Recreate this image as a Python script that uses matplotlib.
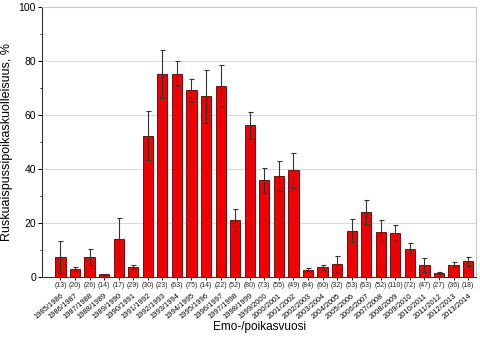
"""
Yolk-sac fry mortality by parent/fry year, bar chart with error bars
"""
import numpy as np

import matplotlib

matplotlib.use("Agg")
import matplotlib.pyplot as plt  # noqa:E402
from matplotlib.ticker import MultipleLocator  # noqa:E402

plt.rcParams["font.family"] = ["Liberation Sans", "DejaVu Sans"]

# data
years = [
    "1985/1986", "1986/1987", "1987/1988", "1988/1989", "1989/1990",
    "1990/1991", "1991/1992", "1992/1993", "1993/1994", "1994/1995",
    "1995/1996", "1996/1997", "1997/1998", "1998/1999", "1999/2000",
    "2000/2001", "2001/2002", "2002/2003", "2003/2004", "2004/2005",
    "2005/2006", "2006/2007", "2007/2008", "2008/2009", "2009/2010",
    "2010/2011", "2011/2012", "2012/2013", "2013/2014",
]
mortality = [
    7.5, 3.0, 7.5, 1.0, 14.0, 3.8, 52.5, 75.2, 75.4, 69.3,
    67.0, 70.8, 21.1, 56.3, 35.9, 37.5, 39.6, 2.8, 3.6, 4.8,
    17.2, 24.1, 16.9, 16.4, 10.5, 4.4, 1.5, 4.6, 5.8,
]
error = [
    6.0, 0.6, 3.0, 0.3, 8.0, 0.8, 9.0, 8.9, 4.7, 4.2,
    9.7, 7.7, 4.0, 5.0, 4.6, 5.7, 6.6, 0.5, 0.8, 3.1,
    4.2, 4.5, 4.3, 3.0, 2.2, 2.5, 0.35, 1.0, 1.7,
]
n_samples = [
    13, 20, 26, 14, 17, 29, 30, 23, 63, 75, 14, 22, 52, 80, 73,
    55, 49, 84, 60, 32, 53, 63, 52, 110, 72, 47, 27, 36, 18,
]


def main():
    """
    Entry point for script
    """
    fig, ax = plt.subplots(figsize=(4.8, 3.4), dpi=100)
    fig.subplots_adjust(left=0.088, right=0.992, top=0.978, bottom=0.185)

    x = np.arange(len(years))
    ax.bar(
        x, mortality, width=0.7, color="#ee0000", edgecolor="#5a0000",
        linewidth=0.6, zorder=3,
    )
    ax.errorbar(
        x, mortality, yerr=error, fmt="none", ecolor="#333333",
        elinewidth=0.8, capsize=1.8, capthick=0.8, zorder=4,
    )

    ax.set_xlim(-1.25, len(years) - 0.45)
    ax.set_ylim(0, 100)
    ax.yaxis.set_major_locator(MultipleLocator(20))
    ax.yaxis.set_minor_locator(MultipleLocator(10))
    ax.grid(axis="y", color="#d8d8d8", linewidth=0.7, zorder=0)

    for side in ["top", "right"]:
        ax.spines[side].set_color("#c8c8c8")
    for side in ["left", "bottom"]:
        ax.spines[side].set_color("#333333")
        ax.spines[side].set_linewidth(0.8)

    ax.tick_params(axis="y", labelsize=7.5, length=3, width=0.7, pad=1.5)
    ax.tick_params(axis="y", which="minor", length=1.5, width=0.6)
    ax.tick_params(axis="x", length=2, width=0.6, pad=9)

    ax.set_xticks(x)
    ax.set_xticklabels(
        years, rotation=40, ha="right", va="top", rotation_mode="anchor",
        fontsize=5.4,
    )

    # sample sizes under the bars
    for xi, n in zip(x, n_samples):
        ax.text(
            xi, -0.03, f"({n})", transform=ax.get_xaxis_transform(),
            ha="center", va="center", fontsize=5.0, color="#222222",
        )

    ax.set_ylabel("Ruskuaispussipoikaskuolleisuus, %", fontsize=9, labelpad=4)
    ax.set_xlabel("Emo-/poikasvuosi", fontsize=8.5, labelpad=0)

    fig.savefig("out.png", dpi=100)
    plt.close(fig)


if __name__ == "__main__":
    main()
